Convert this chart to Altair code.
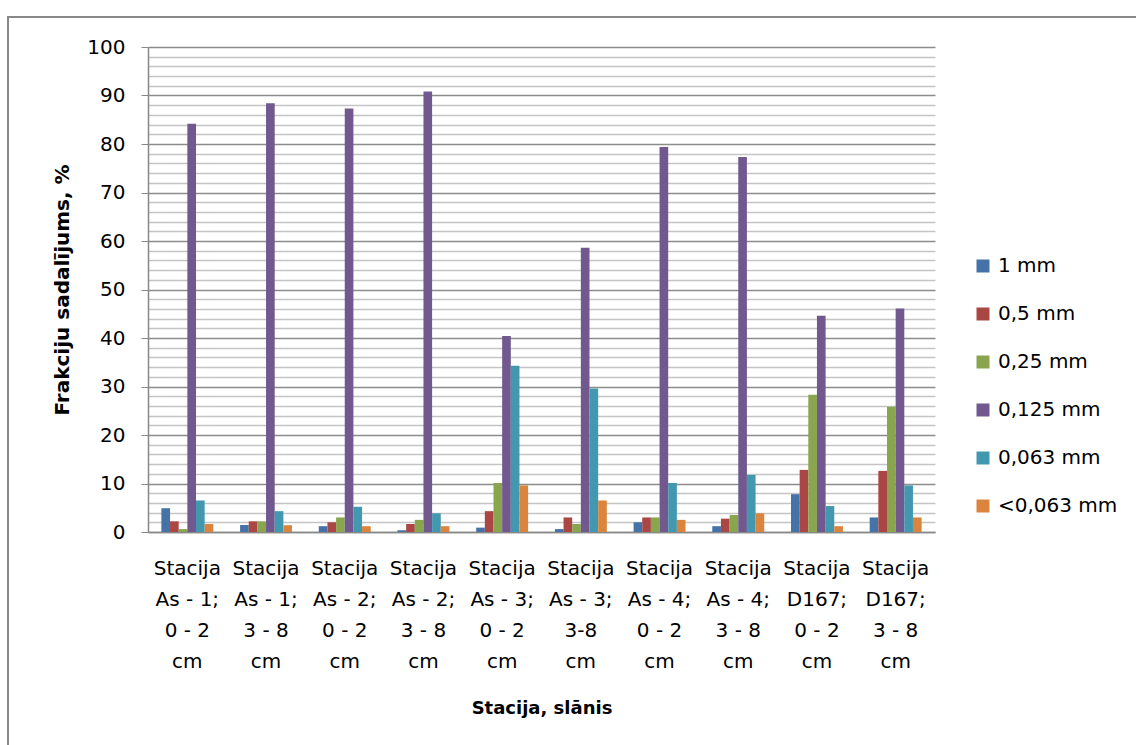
import altair as alt
import pandas as pd

categories = [
    "Stacija|As - 1;|0 - 2|cm",
    "Stacija|As - 1;|3 - 8|cm",
    "Stacija|As - 2;|0 - 2|cm",
    "Stacija|As - 2;|3 - 8|cm",
    "Stacija|As - 3;|0 - 2|cm",
    "Stacija|As - 3;|3-8|cm",
    "Stacija|As - 4;|0 - 2|cm",
    "Stacija|As - 4;|3 - 8|cm",
    "Stacija|D167;|0 - 2|cm",
    "Stacija|D167;|3 - 8|cm",
]
series = ["1 mm", "0,5 mm", "0,25 mm", "0,125 mm", "0,063 mm", "<0,063 mm"]
colors = ["#4572A7", "#AA4643", "#89A54E", "#71588F", "#4198AF", "#DB843D"]

v_1mm = [4.9, 1.45, 1.2, 0.35, 0.9, 0.6, 2.0, 1.2, 7.8, 3.0]
v_05mm = [2.2, 2.2, 2.0, 1.65, 4.3, 3.0, 3.0, 2.75, 12.8, 12.6]
v_025mm = [0.6, 2.2, 3.0, 2.5, 10.1, 1.65, 3.0, 3.5, 28.3, 25.8]
v_0125mm = [84.2, 88.4, 87.3, 90.8, 40.4, 58.6, 79.4, 77.3, 44.6, 46.1]
v_0063mm = [6.5, 4.3, 5.2, 3.85, 34.3, 29.6, 10.1, 11.75, 5.35, 9.6]
v_lt0063mm = [1.65, 1.4, 1.2, 1.2, 9.6, 6.5, 2.5, 3.85, 1.2, 3.0]

all_values = [v_1mm, v_05mm, v_025mm, v_0125mm, v_0063mm, v_lt0063mm]
rows = []
for s, vals in zip(series, all_values):
    for c, v in zip(categories, vals):
        rows.append({"cat": c, "series": s, "value": v})
df = pd.DataFrame(rows)

FONT = "DejaVu Sans"

bars = alt.Chart(df).mark_bar().encode(
    x=alt.X(
        "cat:N",
        sort=categories,
        scale=alt.Scale(paddingInner=0.34, paddingOuter=0.17),
        axis=alt.Axis(
            title="Stacija, slānis",
            labelAngle=0,
            labelExpr="split(datum.label, '|')",
            labelLineHeight=31,
            labelFontSize=20,
            labelFont=FONT,
            labelColor="#000000",
            labelPadding=26,
            ticks=False,
            domainColor="#888888",
            domainWidth=1.5,
            titleFont=FONT,
            titleFontSize=18,
            titleFontWeight="bold",
            titleColor="#000000",
            titlePadding=28,
        ),
    ),
    xOffset=alt.XOffset("series:N", sort=series, scale=alt.Scale(paddingInner=0, paddingOuter=0)),
    y=alt.Y(
        "value:Q",
        scale=alt.Scale(domain=[0, 100], nice=False),
        axis=alt.Axis(
            title="Frakciju sadalījums, %",
            values=list(range(0, 101, 2)),
            labelExpr="datum.value % 10 === 0 ? datum.label : ''",
            labelFontSize=20,
            labelFont=FONT,
            labelColor="#000000",
            labelPadding=16,
            tickSize=7,
            tickColor=alt.condition("datum.value % 10 === 0", alt.value("#888888"), alt.value("transparent")),
            gridColor=alt.condition("datum.value % 10 === 0", alt.value("#8c8c8c"), alt.value("#c4c4c4")),
            gridWidth=1.3,
            domainColor="#888888",
            domainWidth=1.5,
            titleFont=FONT,
            titleFontSize=20,
            titleFontWeight="bold",
            titleColor="#000000",
            titlePadding=14,
        ),
    ),
    color=alt.Color(
        "series:N",
        sort=series,
        scale=alt.Scale(domain=series, range=colors),
        legend=alt.Legend(
            title=None,
            orient="none",
            legendX=825,
            legendY=209,
            padding=0,
            rowPadding=28,
            symbolType="square",
            symbolSize=169,
            symbolStrokeWidth=0,
            labelFont=FONT,
            labelFontSize=20,
            labelColor="#000000",
            labelOffset=5,
        ),
    ),
)

frame = alt.Chart(alt.Data(values=[{"f": 1}])).mark_rect(
    fill="transparent", stroke="#888888", strokeWidth=2
).encode(
    x=alt.value(-140), x2=alt.value(1000), y=alt.value(-30), y2=alt.value(710)
)

chart = alt.layer(frame, bars).properties(
    width=787,
    height=485,
    padding={"left": 148, "top": 47, "right": 201, "bottom": 213},
    autosize=alt.AutoSizeParams(type="none"),
    background="white",
).configure_view(stroke=None)

chart.save("out.html", embed_options={"renderer": "svg", "actions": False})
